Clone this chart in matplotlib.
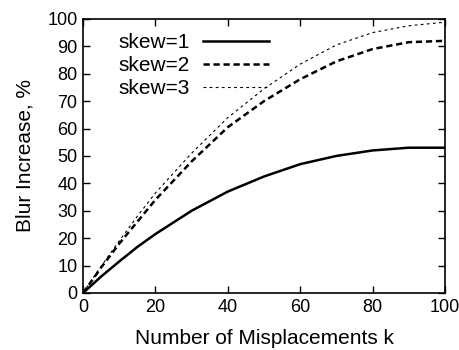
import numpy as np
import matplotlib
matplotlib.use("Agg")
import matplotlib.pyplot as plt

# ==== DATA ====
k = [0, 5, 10, 15, 20, 30, 40, 50, 60, 70, 80, 90, 100]
skew1 = [0, 6, 11.5, 16.8, 21.5, 30, 37, 42.5, 47, 50, 52, 53, 53]
skew2 = [0, 9.3, 18, 26, 34, 48, 60.5, 70, 78, 84.5, 89, 91.5, 92]
skew3 = [0, 9.8, 19, 28, 36.5, 51, 64, 74.5, 83.5, 90.5, 95, 97.5, 98.8]

labels = ["skew=1", "skew=2", "skew=3"]
x_ticks = [0, 20, 40, 60, 80, 100]
y_ticks = list(range(0, 101, 10))

# ==== STYLE ====
plt.rcParams['font.family'] = ['Liberation Sans', 'DejaVu Sans']
plt.rcParams['font.size'] = 13

fig = plt.figure(figsize=(4.59, 3.5), dpi=100)
ax = fig.add_axes([0.181, 0.163, 0.7885, 0.783])

ax.plot(k, skew1, color='black', lw=1.8, linestyle='-', label=labels[0])
ax.plot(k, skew2, color='black', lw=1.8, linestyle=(0, (2.5, 1.5)), label=labels[1])
ax.plot(k, skew3, color='black', lw=0.8, linestyle=(0, (2.5, 3)), label=labels[2])

ax.set_xlim(0, 100)
ax.set_ylim(0, 100)
ax.set_xticks(x_ticks)
ax.set_yticks(y_ticks)
ax.tick_params(direction='in', length=5, width=1, top=True, right=True,
               pad=4, labelsize=13)
for s in ax.spines.values():
    s.set_linewidth(1.2)

ax.set_xlabel('Number of Misplacements k', fontsize=15, labelpad=10)
ax.set_ylabel('Blur Increase, %', fontsize=15, labelpad=9)

ax.legend(loc='upper left', frameon=False, markerfirst=False,
          handlelength=3.2, handletextpad=0.6, labelspacing=0.18,
          borderaxespad=0.3, bbox_to_anchor=(0.058, 1.0), fontsize=15)

fig.savefig('out.png', dpi=100)
